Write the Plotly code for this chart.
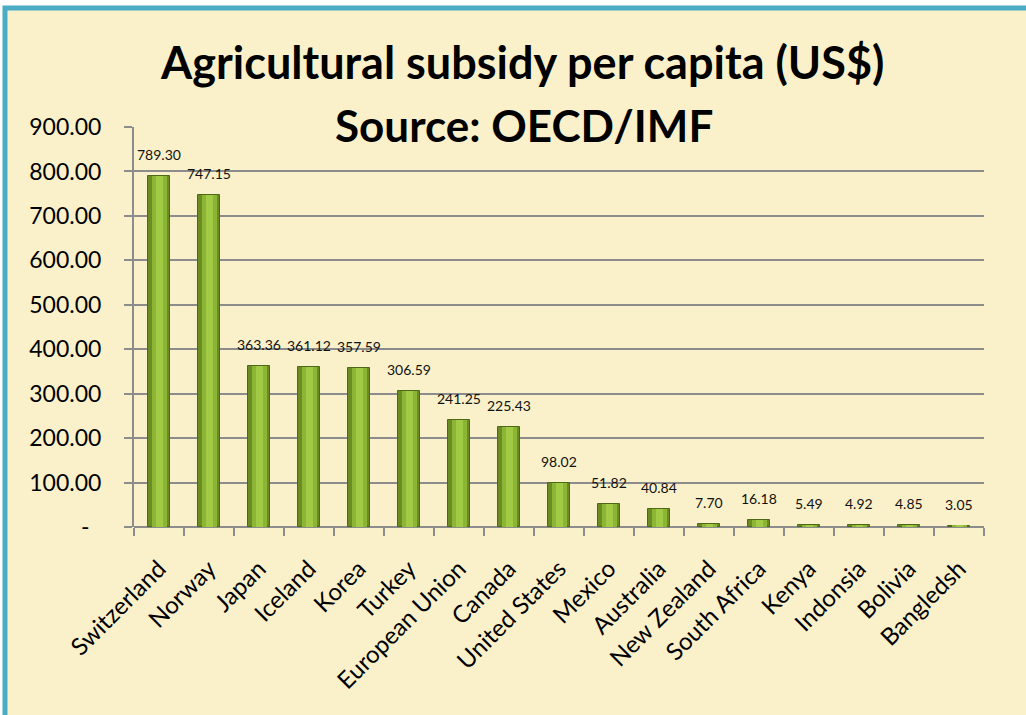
import plotly.graph_objects as go

countries = ["Switzerland", "Norway", "Japan", "Iceland", "Korea", "Turkey",
             "European Union", "Canada", "United States", "Mexico", "Australia",
             "New Zealand", "South Africa", "Kenya", "Indonsia", "Bolivia", "Bangledsh"]
subsidy = [789.30, 747.15, 363.36, 361.12, 357.59, 306.59, 241.25, 225.43,
           98.02, 51.82, 40.84, 7.70, 16.18, 5.49, 4.92, 4.85, 3.05]
y_ticks = [0, 100, 200, 300, 400, 500, 600, 700, 800, 900]
y_ticktext = ["-\u00a0\u00a0"] + [f"{v:.2f}" for v in y_ticks[1:]]

FONT = "Lato"
fig = go.Figure()

# layered bars to imitate Excel's cylinder-like shading
fig.add_trace(go.Bar(x=countries, y=subsidy, width=0.44, marker=dict(color="#6A8C22", line=dict(color="#4E6818", width=1)),
                     hoverinfo="skip", showlegend=False))
fig.add_trace(go.Bar(x=countries, y=subsidy, width=0.30, marker=dict(color="#8CB535", line=dict(width=0)),
                     hoverinfo="skip", showlegend=False))
fig.add_trace(go.Bar(x=countries, y=subsidy, width=0.14, marker=dict(color="#A2CB45", line=dict(width=0)),
                     showlegend=False))

for c, v in zip(countries, subsidy):
    fig.add_annotation(x=c, y=v, text=f"{v:.2f}", showarrow=False, yanchor="bottom",
                       yshift=11, font=dict(family=FONT, size=14, color="#111111"))

# frame
fig.add_shape(type="rect", xref="paper", yref="paper", x0=-0.1518, x1=1.2, y0=-0.6, y1=1.2975,
              fillcolor="#FAF1CB", line=dict(color="#4BACC6", width=5), layer="below")

fig.add_annotation(text="<b>Agricultural subsidy per capita (US$)</b>", xref="paper", yref="paper",
                   x=0.457, y=1.162, showarrow=False, yanchor="middle",
                   font=dict(family=FONT, size=45, color="black"))
fig.add_annotation(text="<b>Source: OECD/IMF</b>", xref="paper", yref="paper",
                   x=0.459, y=1.005, showarrow=False, yanchor="middle",
                   font=dict(family=FONT, size=44, color="black"))

fig.update_layout(
    width=1026, height=715,
    margin=dict(l=134, r=42, t=127, b=188),
    paper_bgcolor="white", plot_bgcolor="rgba(0,0,0,0)",
    barmode="overlay", bargap=0,
    font=dict(family=FONT, color="black"),
)
fig.update_xaxes(range=[-0.5, 16.5], tickangle=-45, tickfont=dict(family=FONT, size=24),
                 ticks="outside", tickson="boundaries", ticklen=8, tickwidth=2, tickcolor="#8C8C8C",
                 showgrid=False, showline=False, ticklabelstandoff=22)
fig.update_yaxes(range=[0, 900], tickvals=y_ticks, ticktext=y_ticktext,
                 tickfont=dict(family=FONT, size=23), ticks="outside", ticklen=8, tickwidth=2,
                 tickcolor="#8C8C8C", showgrid=True, gridcolor="#8C8C8C", gridwidth=2,
                 zeroline=True, zerolinecolor="#8C8C8C", zerolinewidth=2,
                 showline=True, linecolor="#8C8C8C", linewidth=2, ticklabelstandoff=18)

fig.write_html("out.html", config={"displayModeBar": False},
               post_script="document.body.style.margin='0';document.body.style.overflow='hidden';")
